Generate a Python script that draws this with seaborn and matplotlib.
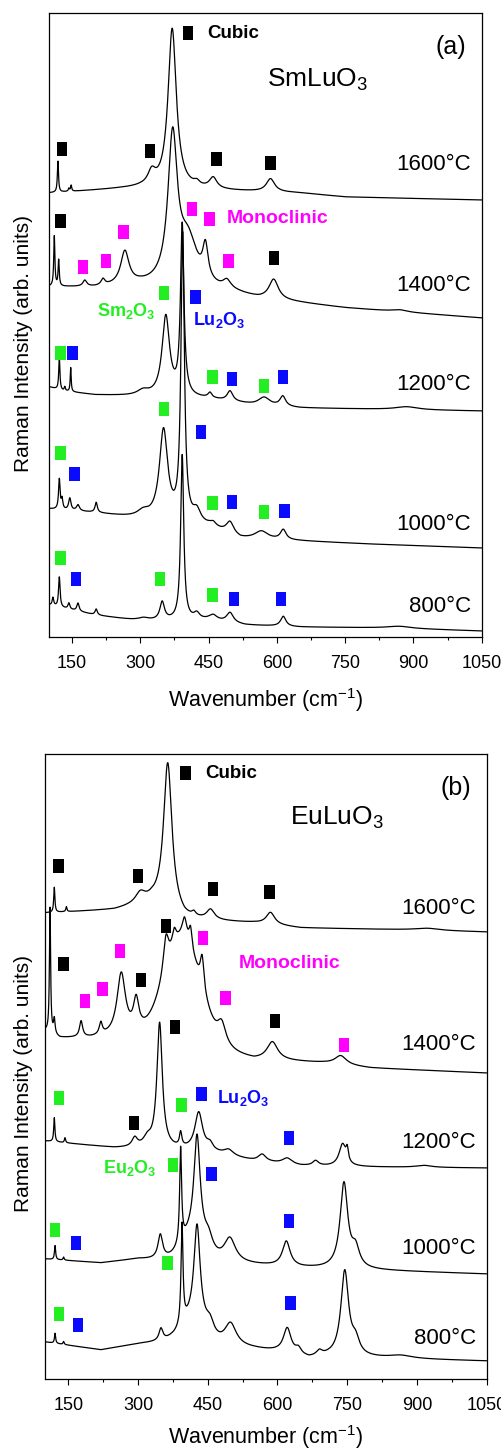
import numpy as np
import matplotlib
matplotlib.use("Agg")
import matplotlib.pyplot as plt
import seaborn as sns
from matplotlib.path import Path
from matplotlib.ticker import FixedLocator

sns.set_style("ticks")
plt.rcParams['font.family'] = ['Liberation Sans', 'DejaVu Sans']
plt.rcParams['mathtext.fontset'] = 'custom'
plt.rcParams['mathtext.rm'] = 'Liberation Sans'
plt.rcParams['mathtext.bf'] = 'Liberation Sans:bold'
plt.rcParams['mathtext.it'] = 'Liberation Sans:italic'
plt.rcParams['mathtext.default'] = 'regular'
for k in ['text.color', 'axes.labelcolor', 'xtick.color', 'ytick.color', 'axes.edgecolor']:
    plt.rcParams[k] = 'black'

# ---------------- data (wavenumber cm-1, intensity arb. units) ----------------
wn = np.linspace(100, 1050, 4751)
temps = ["1600°C", "1400°C", "1200°C", "1000°C", "800°C"]

# Panel (a) SmLuO3 : baseline anchors (wn, level); peaks (centre, height, fwhm)
a1600_base = [(100, 444), (250, 448), (300, 449), (650, 444), (750, 440), (1050, 437)]
a1600_peaks = [(119, 31, 3), (143, 3, 3), (148, 6, 3), (325, 13, 20), (370, 160, 22),
               (424, 4, 15), (460, 11, 20), (586, 13, 22)]
a1400_base = [(100, 350), (200, 349), (300, 351), (500, 344), (560, 338), (650, 334),
              (750, 329), (1050, 319)]
a1400_peaks = [(111, 50, 3), (120.6, 26, 3), (178, 6, 10), (218, 6, 10), (266, 33, 22),
               (371, 145, 25), (405, 45, 50), (443, 33, 14), (490, 8, 20), (593, 20, 25),
               (870, 2, 40)]
a1200_base = [(100, 250), (130, 246), (200, 242), (330, 240), (450, 238), (550, 232),
              (650, 229), (1050, 226)]
a1200_peaks = [(122, 33, 3), (134, 4, 3), (147, 24, 2.5), (306, 5, 30), (356, 80, 20),
               (392, 170, 9), (453, 5, 10), (497, 10, 15), (572, 8, 30), (613, 10, 15),
               (885, 3, 60)]
a1000_base = [(100, 128), (200, 124), (300, 118), (450, 110), (520, 98), (650, 96),
              (800, 93), (1050, 89)]
a1000_peaks = [(122, 30, 4), (128, 10, 4), (145, 12, 6), (163, 6, 8), (203, 10, 6),
               (306, 6, 30), (351, 90, 22), (393, 285, 9), (424, 12, 20), (460, 4, 15),
               (497, 12, 20), (566, 8, 35), (614, 10, 15)]
a800_base = [(100, 32), (200, 22), (300, 16), (450, 17), (530, 12), (650, 10), (850, 9),
             (1050, 6)]
a800_peaks = [(108, 8, 4), (122, 30, 4), (143, 6, 5), (163, 8, 6), (203, 6, 6),
              (306, 3, 30), (348, 18, 12), (392, 165, 8), (424, 6, 15), (460, 5, 20),
              (497, 10, 18), (614, 10, 14), (870, 2, 60)]

# Panel (b) EuLuO3 ; bands = broad gaussian components (centre, height, fwhm)
b1600_base = [(100, 466), (250, 469), (330, 476), (400, 459), (550, 456), (650, 451),
              (900, 449), (1050, 447)]
b1600_peaks = [(120, 25, 3), (146, 5, 3), (305, 10, 25), (364, 148, 22), (420, 4, 10),
               (456, 10, 20), (585, 12, 22), (923, 2, 60)]
b1600_bands = []
b1400_base = [(100, 348), (132, 341), (200, 341), (300, 344), (400, 338), (450, 334),
              (500, 327), (550, 320), (700, 316), (800, 311), (1050, 306)]
b1400_peaks = [(110.8, 125, 3), (120, 15, 4), (177.6, 16, 8), (220, 12, 8), (264, 62, 22),
               (296, 30, 14), (360, 35, 14), (378, 14, 10), (400, 20, 12), (413, 20, 8),
               (438, 33, 10), (480, 20, 22), (589, 18, 28), (736, 9, 30)]
b1400_bands = [(395, 100, 90)]
b1200_base = [(100, 238), (250, 231), (350, 230), (450, 227), (500, 222), (550, 218),
              (650, 213), (800, 212), (1050, 211)]
b1200_peaks = [(120, 24, 3), (143, 5, 3), (293, 9, 14), (320, 8, 20), (346.5, 125, 14),
               (391.7, 14, 6), (430.6, 38, 20), (455, 6, 15), (495, 6, 25), (567, 7, 20),
               (621, 6, 25), (682, 5, 15), (740, 22, 18), (750, 12, 6), (915, 2, 40)]
b1200_bands = []
b1000_base = [(100, 120), (220, 116), (300, 120), (450, 117), (550, 114), (650, 111),
              (850, 108), (1050, 105)]
b1000_peaks = [(121.6, 14, 3), (140, 3, 3), (348, 24, 12), (391.7, 95, 5), (427, 100, 16),
               (452, 12, 20), (497.5, 24, 30), (619, 25, 20), (743, 85, 20), (768, 18, 20)]
b1000_bands = [(420, 25, 60)]
b800_base = [(100, 37), (220, 29), (300, 35), (370, 38), (450, 35), (550, 30), (600, 27),
             (668, 20), (710, 22), (800, 21), (1050, 18)]
b800_peaks = [(121.6, 10, 3), (140, 3, 3), (349.4, 12, 10), (394.7, 100, 5), (427, 95, 16),
              (455, 12, 20), (499, 22, 30), (621, 25, 20), (645, 6, 15), (690, 5, 15),
              (744.7, 85, 20), (768, 14, 20), (865, 3, 60)]
b800_bands = [(420, 22, 60)]

# marker positions (wn, intensity)
a_cubic_x = [127.9, 321, 467.7, 586, 125, 593.5, 404.6]
a_cubic_y = [488.3, 486.3, 477.7, 474, 416, 378.7, 604]
a_mono_x = [174, 224.5, 263.4, 413.4, 452.3, 494]
a_mono_y = [370.3, 376, 405.3, 428.3, 418.3, 376]
a_ln2o3_x = [352, 125, 459, 571.6, 352, 125, 459, 571.6, 125, 343.8, 459]
a_ln2o3_y = [344.3, 284.3, 260.3, 251.3, 228, 184.3, 133.7, 124.7, 79.3, 58, 42]
a_lu2o3_x = [421.5, 151.4, 502, 613.3, 433.2, 155.8, 502, 617, 159.3, 505.7, 609]
a_lu2o3_y = [340.3, 284.3, 258, 260.3, 205.3, 163.3, 135.3, 126.3, 58, 38, 38]

b_cubic_x = [401.9, 128.7, 299.8, 461.5, 583, 360.2, 140.2, 307, 379.6, 595.3, 291.9]
b_cubic_y = [605.7, 513, 503, 490, 486.7, 453.3, 414.7, 399, 351.7, 358.3, 256.3]
b_mono_x = [186.2, 223.6, 261.7, 440, 488, 743.2]
b_mono_y = [378, 390, 428.3, 440.7, 381.3, 334]
b_ln2o3_x = [129.5, 393.9, 375.3, 121.6, 363.8, 129.5]
b_ln2o3_y = [281.3, 274, 214, 149, 116.3, 64.7]
b_lu2o3_x = [436.4, 625.4, 457.9, 166.8, 625.4, 170.4, 628.3]
b_lu2o3_y = [285, 240.7, 205, 135.7, 158, 54, 75.7]

a_temp_y = [473, 352, 252, 112, 30]
b_temp_y = [471, 334, 236, 131, 41]

# ---------------- helpers ----------------
def spectrum(base, peaks, bands=()):
    bx, by = zip(*base)
    y = np.interp(wn, bx, by).astype(float)
    for c, h, w in peaks:
        y = y + h / (1 + ((wn - c) / (w / 2.0)) ** 2)
    for c, h, w in bands:
        s = w / 2.3548
        y = y + h * np.exp(-0.5 * ((wn - c) / s) ** 2)
    return y

rect = Path([(-0.375, -0.5), (0.375, -0.5), (0.375, 0.5), (-0.375, 0.5), (-0.375, -0.5)],
            closed=True)

GREEN = '#22ee22'
BLUE = '#0a0aff'
MAGENTA = '#ff00ff'

W, H = 502, 1450
fig = plt.figure(figsize=(W / 100, H / 100), dpi=100)
ax_a = fig.add_axes([49.3 / W, (H - 637) / H, 432.4 / W, 624 / H])
ax_b = fig.add_axes([45 / W, (H - 1379) / H, 441.7 / W, 625 / H])

def style_axis(ax, ymax, xl_coords, yl_coords):
    ax.set_xlim(100, 1050)
    ax.set_ylim(0, ymax)
    ax.xaxis.set_major_locator(FixedLocator([150, 300, 450, 600, 750, 900, 1050]))
    ax.xaxis.set_minor_locator(FixedLocator([225, 375, 525, 675, 825, 975]))
    ax.set_yticks([])
    ax.tick_params(axis='x', which='major', direction='out', length=4.3, width=0.8,
                   labelsize=13, pad=9, colors='black')
    ax.tick_params(axis='x', which='minor', direction='out', length=2.5, width=0.8)
    for sp in ax.spines.values():
        sp.set_visible(True)
        sp.set_linewidth(0.9)
        sp.set_color('black')
    ax.set_xlabel("Wavenumber (cm$^{-1}$)", fontsize=15.5, color='black')
    ax.set_ylabel("Raman Intensity (arb. units)", fontsize=15, color='black')
    ax.xaxis.set_label_coords(*xl_coords)
    ax.yaxis.set_label_coords(*yl_coords)

def draw_panel(ax, specs, temp_y, cub, mono, ln, lu):
    for (base, peaks, bands), t, ty in zip(specs, temps, temp_y):
        y = spectrum(base, peaks, bands)
        sns.lineplot(x=wn, y=y, ax=ax, color='black', linewidth=0.9,
                     estimator=None, sort=False)
        ax.text(1027, ty, t, ha='right', va='center', fontsize=16, color='black')
    for (xs, ys), col in zip([cub, mono, ln, lu], ['black', MAGENTA, GREEN, BLUE]):
        sns.scatterplot(x=xs, y=ys, ax=ax, marker=rect, s=100, color=col,
                        edgecolor='none', linewidth=0, zorder=3)

draw_panel(ax_a,
           [(a1600_base, a1600_peaks, []), (a1400_base, a1400_peaks, []),
            (a1200_base, a1200_peaks, []), (a1000_base, a1000_peaks, []),
            (a800_base, a800_peaks, [])],
           a_temp_y, (a_cubic_x, a_cubic_y), (a_mono_x, a_mono_y),
           (a_ln2o3_x, a_ln2o3_y), (a_lu2o3_x, a_lu2o3_y))
draw_panel(ax_b,
           [(b1600_base, b1600_peaks, b1600_bands), (b1400_base, b1400_peaks, b1400_bands),
            (b1200_base, b1200_peaks, b1200_bands), (b1000_base, b1000_peaks, b1000_bands),
            (b800_base, b800_peaks, b800_bands)],
           b_temp_y, (b_cubic_x, b_cubic_y), (b_mono_x, b_mono_y),
           (b_ln2o3_x, b_ln2o3_y), (b_lu2o3_x, b_lu2o3_y))

style_axis(ax_a, 624, (0.5, -0.078), (-0.038, 0.47))
style_axis(ax_b, 625, (0.5, -0.071), (-0.027, 0.472))

# annotations panel (a)
ax_a.text(446.4, 604, "Cubic", fontsize=13.5, fontweight='bold', ha='left', va='center')
ax_a.text(982, 590, "(a)", fontsize=18, ha='center', va='center')
ax_a.text(578, 557, "SmLuO$_3$", fontsize=19, ha='left', va='center')
ax_a.text(490, 419, "Monoclinic", fontsize=14, fontweight='bold', color=MAGENTA,
          ha='left', va='center')
ax_a.text(334, 326, "Sm$_2$O$_3$", fontsize=13, fontweight='bold', color=GREEN,
          ha='right', va='center')
ax_a.text(415.6, 317, "Lu$_2$O$_3$", fontsize=13, fontweight='bold', color=BLUE,
          ha='left', va='center')

# annotations panel (b)
ax_b.text(445, 605.7, "Cubic", fontsize=13.5, fontweight='bold', ha='left', va='center')
ax_b.text(984, 591, "(b)", fontsize=18, ha='center', va='center')
ax_b.text(628, 561, "EuLuO$_3$", fontsize=19, ha='left', va='center')
ax_b.text(516.8, 416, "Monoclinic", fontsize=14, fontweight='bold', color=MAGENTA,
          ha='left', va='center')
ax_b.text(225.7, 211, "Eu$_2$O$_3$", fontsize=13, fontweight='bold', color=GREEN,
          ha='left', va='center')
ax_b.text(470.2, 281, "Lu$_2$O$_3$", fontsize=13, fontweight='bold', color=BLUE,
          ha='left', va='center')

fig.savefig("out.png", dpi=100)
